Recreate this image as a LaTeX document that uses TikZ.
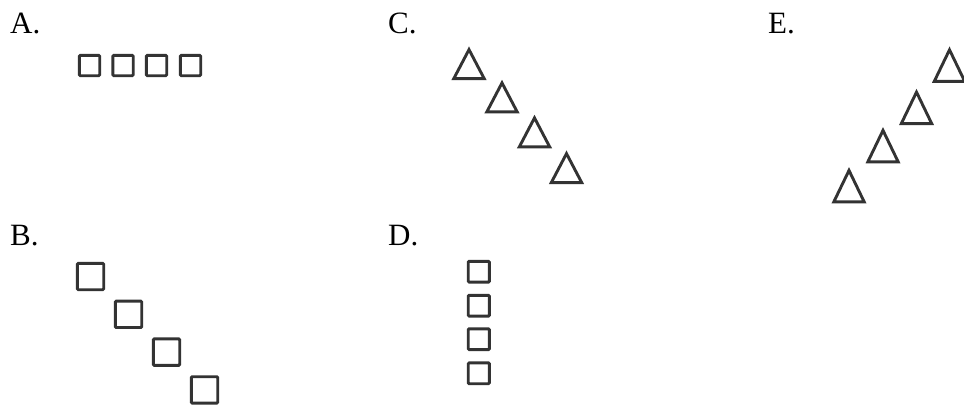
\documentclass[tikz,border=0pt]{standalone}
\usepackage{fontspec}
\setmainfont{Liberation Serif}
\begin{document}
\begin{tikzpicture}[x=1pt,y=-1pt,
  lbl/.style={anchor=base west,inner sep=0pt,font=\fontsize{31}{36}\selectfont},
  shp/.style={draw=black!80,line width=2.9pt},
  sq/.style={shp,rounded corners=1pt},
  tri/.style={shp,line join=miter}]
\useasboundingbox (0,0) rectangle (964,405);
% labels
\node[lbl] (la) at (10,33) {A.};
\node[lbl] (lc) at (388,33.3) {C.};
\node[lbl] (le) at (768,33) {E.};
\node[lbl] (lb) at (10,245) {B.};
\node[lbl] (ld) at (388,245) {D.};
% A: row of squares
\foreach \cx in {89.5,123,156.5,190.5}
  \draw[sq] (\cx-10.2,65.5-10.2) rectangle (\cx+10.2,65.5+10.2);
% B: diagonal squares
\foreach \k in {0,1,2,3}
  \draw[sq] (90.5+38*\k-13.2,276.5+37.8*\k-13.2) rectangle (90.5+38*\k+13.2,276.5+37.8*\k+13.2);
% D: column of squares
\foreach \cy in {271.7,305.7,339.2,373.3}
  \draw[sq] (478.8-10.6,\cy-10.4) rectangle (478.8+10.6,\cy+10.4);
% C: triangles going down-right
\foreach \cx/\by in {469/78.6,502/111.9,534.5/146.9,566.5/182.6}
  \draw[tri] (\cx-15.2,\by) -- (\cx+15.2,\by) -- (\cx,\by-29) -- cycle;
% E: triangles going up-right
\foreach \cx/\by in {949.5/81.3,916.5/123.6,883/161.9,849/201.9}
  \draw[tri] (\cx-15.2,\by) -- (\cx+15.2,\by) -- (\cx,\by-31.5) -- cycle;
\end{tikzpicture}
\end{document}
